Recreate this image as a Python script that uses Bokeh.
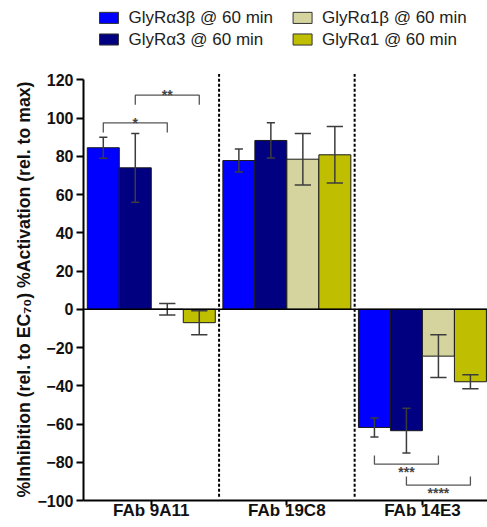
from bokeh.plotting import figure
from bokeh.models import FixedTicker, Span, Range1d, Title
from bokeh.embed import file_html
from bokeh.resources import INLINE
from bokeh.core.properties import value

# ---------------- data ----------------
groups = ["FAb 9A11", "FAb 19C8", "FAb 14E3"]
series = ["GlyRα3β @ 60 min", "GlyRα3 @ 60 min", "GlyRα1β @ 60 min", "GlyRα1 @ 60 min"]
mean_a3b = [84.5, 77.8, -61.8]
err_a3b = [5.5, 6.0, 5.0]
mean_a3 = [74.0, 88.3, -63.5]
err_a3 = [18.0, 9.2, 11.7]
mean_a1b = [0.0, 78.5, -24.5]
err_a1b = [3.0, 13.5, 11.2]
mean_a1 = [-7.0, 80.8, -37.9]
err_a1 = [6.3, 14.8, 3.7]
y_ticks = [-100, -80, -60, -40, -20, 0, 20, 40, 60, 80, 100, 120]
y_title = "%Inhibition (rel. to EC\u2087\u2080) %Activation (rel. to max)"
# significance: (group, series a, series b, bracket level, label)
sig_pairs = [(0, 0, 2, 97.5, "*"), (0, 1, 3, 112.0, "**"),
             (2, 0, 2, -81.0, "***"), (2, 1, 3, -92.0, "****")]

means = [mean_a3b, mean_a3, mean_a1b, mean_a1]
errs = [err_a3b, err_a3, err_a1b, err_a1]

# ---------------- styles ----------------
colors = ["#0000FF", "#000080", "#D6D49E", "#C0BE00"]
cap_w = [0.06, 0.06, 0.12, 0.12]
bw = 0.236
FONT = "Liberation Sans"
ERRC = "#3c3c3c"

p = figure(width=487, height=527, output_backend="svg", toolbar_location=None,
           x_range=Range1d(-0.5, 2.48), y_range=Range1d(-100, 161.5),
           min_border_left=83, min_border_right=0, min_border_top=0,
           min_border_bottom=27)
p.outline_line_color = None
p.xgrid.visible = False
p.ygrid.visible = False
p.background_fill_color = "white"

offsets = [(i - 1.5) * bw for i in range(4)]

for s in range(4):
    xs = [g + offsets[s] for g in range(len(groups))]
    p.vbar(x=xs, top=means[s], bottom=0, width=bw, fill_color=colors[s],
           line_color="#1a1a1a", line_width=1)

for s in range(4):
    xs = [g + offsets[s] for g in range(len(groups))]
    lo = [m - e for m, e in zip(means[s], errs[s])]
    hi = [m + e for m, e in zip(means[s], errs[s])]
    p.segment(x0=xs, y0=lo, x1=xs, y1=hi, line_color=ERRC, line_width=1.5)
    cx0 = [x - cap_w[s] / 2 for x in xs]
    cx1 = [x + cap_w[s] / 2 for x in xs]
    p.segment(x0=cx0, y0=hi, x1=cx1, y1=hi, line_color=ERRC, line_width=1.5)
    p.segment(x0=cx0, y0=lo, x1=cx1, y1=lo, line_color=ERRC, line_width=1.5)

# separators between groups
sep_x = [g + 0.5 for g in range(len(groups) - 1)]
p.segment(x0=sep_x, y0=[-98] * len(sep_x), x1=sep_x, y1=[123] * len(sep_x),
          line_color="black", line_width=2, line_dash="3 2")

# zero line
p.add_layout(Span(location=0, dimension="width", line_color="black", line_width=1.5))

# significance brackets
for g, a, b, lvl, lab in sig_pairs:
    xa = g + offsets[a]
    xb = g + offsets[b]
    d = -5.0 if lvl > 0 else 4.5
    p.line(x=[xa, xa, xb, xb], y=[lvl + d, lvl, lvl, lvl + d], line_color="#555555", line_width=1.3)
    if lvl > 0:
        p.text(x=[(xa + xb) / 2], y=[lvl], text=[lab], text_align="center",
               text_baseline="bottom", text_font=value(FONT), text_font_size="14px",
               text_font_style="bold", text_color="#444444", y_offset=8)
    else:
        p.text(x=[(xa + xb) / 2], y=[lvl], text=[lab], text_align="center",
               text_baseline="top", text_font=value(FONT), text_font_size="14px",
               text_font_style="bold", text_color="#444444", y_offset=0)

# legend (manual, two columns)
leg_x = [-0.312, -0.312, 1.116, 1.116]
leg_y = [152.4, 141.1, 152.4, 141.1]
p.rect(x=leg_x, y=leg_y, width=0.14, height=5.8, fill_color=colors,
       line_color="#333333", line_width=1)
p.text(x=[x + 0.144 for x in leg_x], y=leg_y, text=series, text_align="left",
       text_baseline="middle", text_font=value(FONT), text_font_size="17px",
       text_color="#222222")

# axes
p.xaxis.ticker = FixedTicker(ticks=list(range(len(groups))))
p.xaxis.major_label_overrides = {i: g for i, g in enumerate(groups)}
p.xaxis.major_tick_out = 5
p.xaxis.major_tick_in = 0
p.xaxis.minor_tick_line_color = None
p.xaxis.axis_line_width = 2
p.xaxis.major_tick_line_width = 2
p.xaxis.major_label_standoff = -5
p.xaxis.major_label_text_font = FONT
p.xaxis.major_label_text_font_size = "17px"
p.xaxis.major_label_text_font_style = "bold"
p.xaxis.major_label_text_color = "#111111"

p.yaxis.ticker = FixedTicker(ticks=y_ticks)
p.yaxis.bounds = (-100, 120)
p.yaxis.major_tick_out = 7
p.yaxis.major_tick_in = 0
p.yaxis.minor_tick_line_color = None
p.yaxis.axis_line_width = 2
p.yaxis.major_tick_line_width = 2
p.yaxis.major_label_standoff = 3
p.yaxis.major_label_text_font = FONT
p.yaxis.major_label_text_font_size = "16px"
p.yaxis.major_label_text_font_style = "bold"
p.yaxis.major_label_text_color = "#111111"

p.add_layout(Title(text=y_title, align="left", offset=3, text_font=FONT,
                   text_font_size="17.7px", text_font_style="bold",
                   text_color="#111111", standoff=2), "left")

open("out.html", "w").write(file_html(p, INLINE))
